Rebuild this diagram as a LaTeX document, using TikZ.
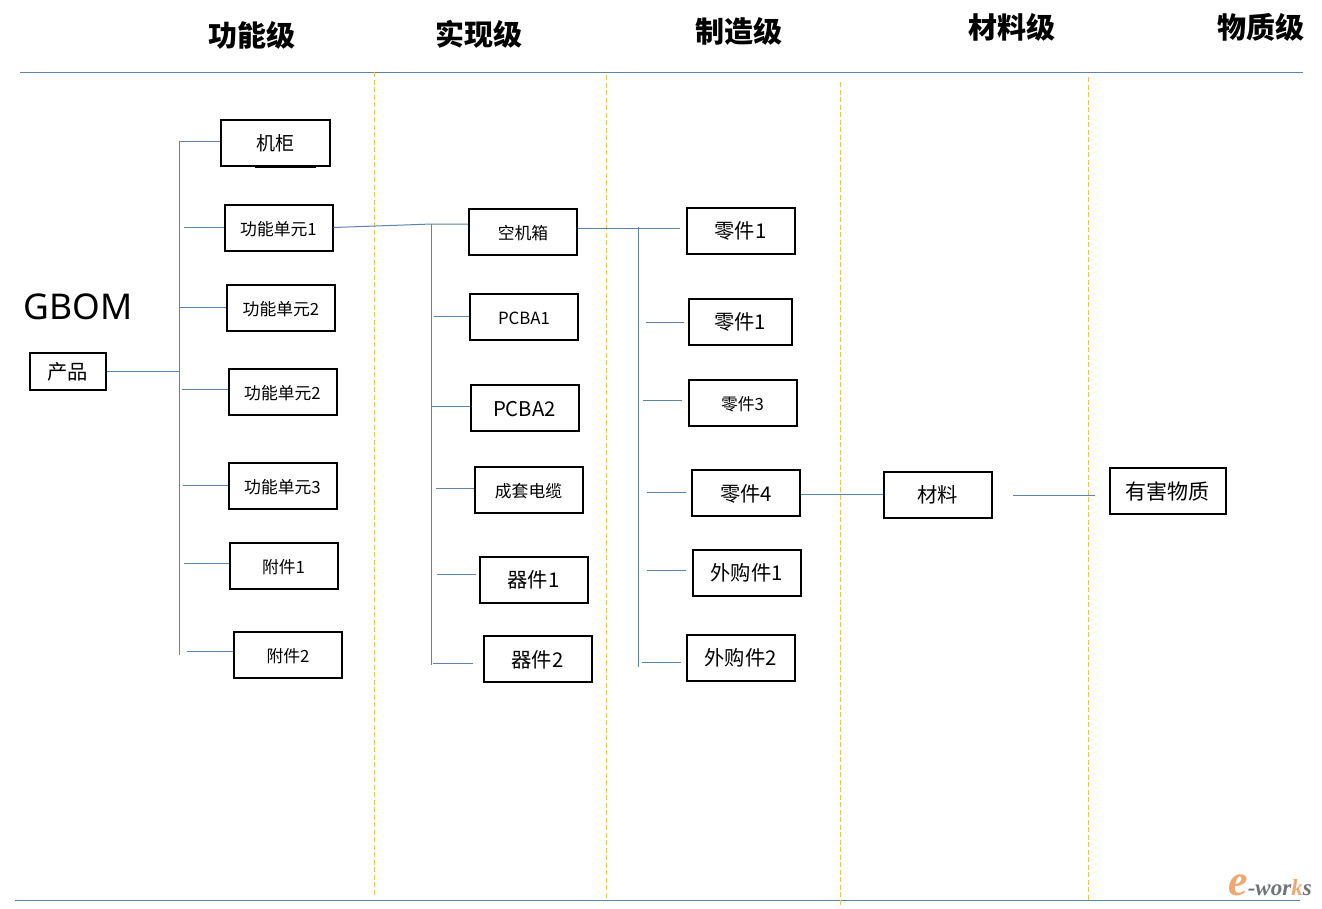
\documentclass[tikz,border=0pt]{standalone}
\usepackage{fontspec}
\setmainfont{Noto Sans CJK SC}
\newfontfamily\logofont{Liberation Serif}
\newfontfamily\gbomfont{Noto Sans}
\definecolor{linkblue}{HTML}{5F83A8}
\definecolor{laneorange}{HTML}{F2C14E}
\definecolor{logoorange}{HTML}{EFA872}
\definecolor{logogray}{HTML}{6F7478}
\tikzset{
  partbox/.style={draw=black,line width=2pt,fill=white,inner sep=0pt,minimum width=108pt,minimum height=46pt,xshift=-0.5pt,yshift=0.5pt},
  level/.style={font=\fontsize{29}{29}\selectfont\bfseries,inner sep=0pt},
  small/.style={font=\fontsize{16.8}{17}\selectfont,text height=17pt,text depth=1.6pt},
  large/.style={font=\fontsize{20.3}{21}\selectfont,text height=18pt,text depth=1.6pt},
  link/.style={draw=linkblue,line width=1pt},
  lane/.style={draw=laneorange,line width=1pt,dashed,dash pattern=on 5pt off 2.5pt},
}
\begin{document}
\begin{tikzpicture}[x=1pt,y=-1pt]
      \useasboundingbox (0,0) rectangle (1322,908);
      \node[level] (func) at (252,35) {功能级};
      \node[level] (impl) at (479,34) {实现级};
      \node[level] (manu) at (739,31) {制造级};
      \node[level] (matl) at (1012,27) {材料级};
      \node[level] (subs) at (1261,27) {物质级};
      \node[font=\fontsize{35.5}{36}\selectfont\gbomfont,inner sep=0pt] (gbom) at (78,307) {GBOM};
      \coordinate (topl) at (20,72);
      \coordinate (topr) at (1303,72);
      \coordinate (botl) at (15,900);
      \coordinate (botr) at (1300,900);
      \draw[link] (topl) to (topr);
      \draw[link] (botl) to (botr);
      \foreach \xa/\ya/\yb [count=\i] in {374.5/72/895,606.8/75/898,840.5/82/905,1088.5/77/900} {
        \coordinate (lane\i a) at (\xa,\ya);
        \coordinate (lane\i b) at (\xa,\yb);
        \draw[lane] (lane\i a) to (lane\i b);
      }
      \coordinate (cabl) at (255,167);
      \coordinate (cabr) at (316,167);
      \draw[black,line width=1pt] (cabl) to (cabr);
      \node[partbox,large,minimum width=76pt,minimum height=37pt] (prod) at (68,372) {产品};
      \node[partbox,large,font=\fontsize{19}{19}\selectfont,minimum width=109pt] (cab) at (275.5,143) {机柜};
      \node[partbox,small] (fu1) at (279,228) {功能单元1};
      \node[partbox,small] (fu2) at (281.5,308) {功能单元2};
      \node[partbox,small] (fu3) at (283,392) {功能单元2};
      \node[partbox,small] (fu4) at (283,486) {功能单元3};
      \node[partbox,small] (att1) at (284,566) {附件1};
      \node[partbox,small] (att2) at (288.5,655) {附件2};
      \node[partbox,small] (box) at (523.5,232) {空机箱};
      \node[partbox,small] (pcb1) at (524.5,317) {PCBA1};
      \node[partbox,large] (pcb2) at (525,408.5) {PCBA2};
      \node[partbox,small] (cable) at (529,490) {成套电缆};
      \node[partbox,large] (dev1) at (534,580) {器件1};
      \node[partbox,large] (dev2) at (538,659.5) {器件2};
      \node[partbox,large] (pt1) at (741,231) {零件1};
      \node[partbox,large,minimum width=103pt] (pt2) at (740.5,322) {零件1};
      \node[partbox,small] (pt3) at (743,403.5) {零件3};
      \node[partbox,large] (pt4) at (746.5,493.5) {零件4};
      \node[partbox,large] (buy1) at (747,573) {外购件1};
      \node[partbox,large] (buy2) at (741,658) {外购件2};
      \node[partbox,large] (mat) at (938,495) {材料};
      \node[partbox,large,font=\fontsize{21}{21}\selectfont,minimum width=116pt] (haz) at (1168,491.5) {有害物质};
      \coordinate (bus1a) at (179.9,141);
      \coordinate (bus1b) at (179.9,655);
      \draw[link] (bus1a) to (bus1b);
      \draw[link] (bus1a) to (cab.west |- bus1a);
      \draw[link] (prod.east) to (prod.east -| bus1a);
      \coordinate (s1) at (184,227);
      \coordinate (s2) at (180,307);
      \coordinate (s3) at (182,389);
      \coordinate (s4) at (183,485);
      \coordinate (s5) at (184,563);
      \coordinate (s6) at (187,651);
      \draw[link] (s1) to (fu1.west |- s1);
      \draw[link] (s2) to (fu2.west |- s2);
      \draw[link] (s3) to (fu3.west |- s3);
      \draw[link] (s4) to (fu4.west |- s4);
      \draw[link] (s5) to (att1.west |- s5);
      \draw[link] (s6) to (att2.west |- s6);
      \coordinate (bus2a) at (431.8,224);
      \coordinate (bus2b) at (431.8,665);
      \draw[link] (bus2a) to (bus2b);
      \draw[link] (fu1.east) to (bus2a) to (box.west |- bus2a);
      \coordinate (t1) at (434,316);
      \coordinate (t2) at (432,406);
      \coordinate (t3) at (436,488);
      \coordinate (t4) at (437,574);
      \coordinate (t5) at (433,663);
      \coordinate (t5e) at (473,663);
      \coordinate (t4e) at (476,574);
      \draw[link] (t1) to (pcb1.west |- t1);
      \draw[link] (t2) to (pcb2.west |- t2);
      \draw[link] (t3) to (cable.west |- t3);
      \draw[link] (t4) to (t4e);
      \draw[link] (t5) to (t5e);
      \coordinate (bus3a) at (638.5,227);
      \coordinate (bus3b) at (638.5,667);
      \coordinate (m0) at (680,228);
      \draw[link] (bus3a) to (bus3b);
      \draw[link] (box.east |- m0) to (m0);
      \coordinate (m2) at (646,322);
      \coordinate (m2e) at (684,322);
      \coordinate (m3) at (643,400);
      \coordinate (m3e) at (682,400);
      \coordinate (m4) at (647,492);
      \coordinate (m4e) at (686,492);
      \coordinate (m5) at (647,570);
      \coordinate (m5e) at (686,570);
      \coordinate (m6) at (642,662);
      \coordinate (m6e) at (681,662);
      \draw[link] (m2) to (m2e);
      \draw[link] (m3) to (m3e);
      \draw[link] (m4) to (m4e);
      \draw[link] (m5) to (m5e);
      \draw[link] (m6) to (m6e);
      \draw[link] (pt4.east |- mat.west) to (mat.west);
      \coordinate (h1) at (1013,495);
      \coordinate (h2) at (1095,495);
      \draw[link] (h1) to (h2);
      \node[inner sep=0pt,font=\logofont\bfseries\itshape\fontsize{23}{23}\selectfont,text=logogray] (logo) at (1270,885) {\textcolor{logoorange}{\fontsize{44}{44}\selectfont e}-wor\textcolor{logoorange}{k}s};
    \end{tikzpicture}
\end{document}
